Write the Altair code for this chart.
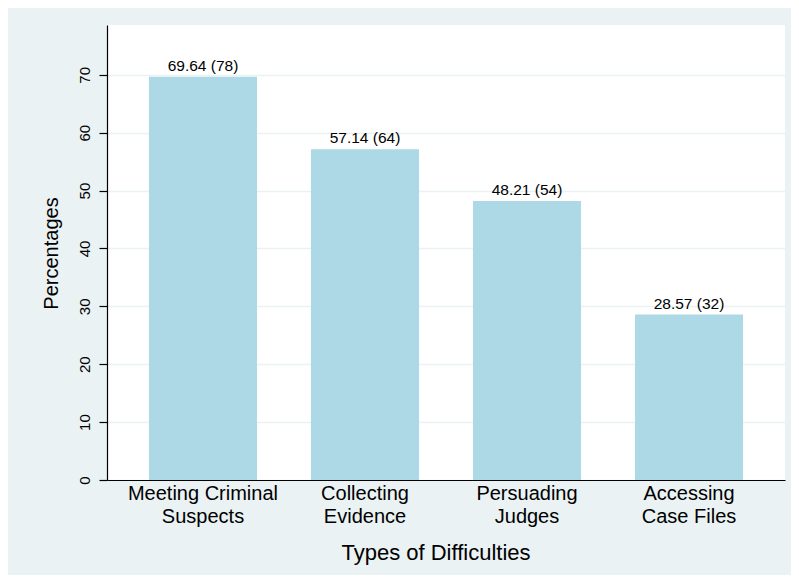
import altair as alt
import pandas as pd

categories = ["Meeting Criminal|Suspects", "Collecting|Evidence", "Persuading|Judges", "Accessing|Case Files"]
percentages = [69.64, 57.14, 48.21, 28.57]
counts = [78, 64, 54, 32]

df = pd.DataFrame({"cat": categories, "pct": percentages, "n": counts})
df["label"] = [f"{p:.2f} ({n})" for p, n in zip(percentages, counts)]

FONT = "Liberation Sans"
BG = "#EAF2F3"

x = alt.X("cat:N", sort=None,
          scale=alt.Scale(paddingInner=0.333, paddingOuter=0.259),
          axis=alt.Axis(title="Types of Difficulties", labelAngle=0,
                        labelExpr="split(datum.label, '|')",
                        labelFontSize=20, labelLineHeight=23, labelPadding=3,
                        labelColor="black", labelFont=FONT,
                        ticks=False, domainColor="black", domainWidth=1.2,
                        titleFontSize=22, titleFont=FONT, titleFontWeight="normal",
                        titleColor="black", titleX=328.5, titleY=72,
                        titleAnchor="start", titleAlign="center", titleBaseline="middle",
                        grid=False))
y = alt.Y("pct:Q",
          scale=alt.Scale(domain=[0, 78.6], nice=False, zero=True),
          axis=alt.Axis(title="Percentages", values=[0, 10, 20, 30, 40, 50, 60, 70],
                        labelAngle=270, labelAlign="center", labelBaseline="bottom",
                        labelPadding=7, labelFontSize=15, labelFont=FONT, labelColor="black",
                        tickSize=8, tickColor="black", tickWidth=1.2,
                        domainColor="black", domainWidth=1.2,
                        grid=True, gridColor=BG, gridWidth=1.6,
                        titleFontSize=20, titleFont=FONT, titleFontWeight="normal",
                        titleColor="black", titleAngle=270, titleX=-56, titleY=228,
                        titleAlign="center", titleBaseline="middle"))

bars = alt.Chart(df).mark_bar(color="#ADD8E6").encode(x=x, y=y)
text = alt.Chart(df).mark_text(baseline="bottom", dy=-3, fontSize=15.5, font=FONT,
                               color="black").encode(x=x, y=y, text="label:N")

chart = (bars + text).properties(
    width=678, height=455,
    padding={"left": 99, "top": 17, "right": 6, "bottom": 95},
    autosize="none",
    background=BG,
).configure_view(fill="white", stroke=None)

chart.save("out.html", embed_options={"renderer": "svg", "actions": False})
